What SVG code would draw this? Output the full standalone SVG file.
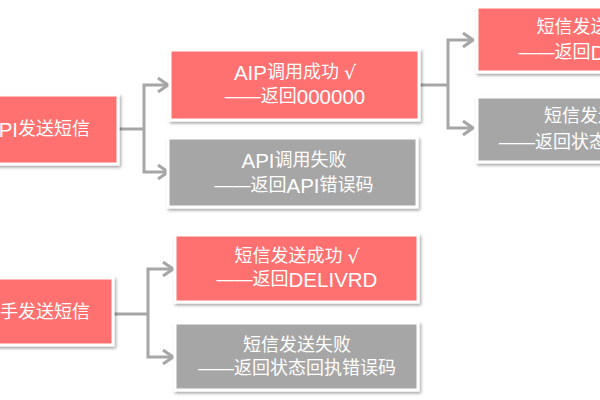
<svg xmlns="http://www.w3.org/2000/svg" width="600" height="400" viewBox="0 0 600 400">
<defs>
<filter id="sh" x="-10%" y="-20%" width="130%" height="150%">
<feDropShadow dx="1.5" dy="2" stdDeviation="1.5" flood-color="#000" flood-opacity="0.35"/>
</filter>
<marker id="arr" viewBox="0 0 12 16" refX="11" refY="8" markerWidth="12" markerHeight="16" markerUnits="userSpaceOnUse" orient="auto">
<path d="M1,1 L11,8 L1,15" fill="none" stroke="#a6a6a6" stroke-width="3" stroke-linejoin="miter"/>
</marker>
</defs>
<style>
.box{stroke:#fff;stroke-width:3;filter:url(#sh)}
.pink{fill:#ff7070}
.gray{fill:#a6a6a6}
text{font-family:"Liberation Sans","Noto Sans CJK SC",sans-serif;font-size:18px;fill:#fff;dominant-baseline:central}
.l{font-size:20.5px}
.v{font-family:"DejaVu Sans",sans-serif;font-size:19px}
.c{text-anchor:middle}
.e{text-anchor:end}
.conn path{fill:none;stroke:#a6a6a6;stroke-width:3}
</style>
<rect width="600" height="400" fill="#fff"/>
<g class="conn" id="connectors">
<path d="M118,129 H144"/>
<path d="M144,129 V85 H168" marker-end="url(#arr)"/>
<path d="M144,129 V172 H168" marker-end="url(#arr)"/>
<path d="M419,85 H448"/>
<path d="M448,85 V40 H473" marker-end="url(#arr)"/>
<path d="M448,85 V128 H473" marker-end="url(#arr)"/>
<path d="M113,314 H148"/>
<path d="M148,314 V269 H173" marker-end="url(#arr)"/>
<path d="M148,314 V357 H173" marker-end="url(#arr)"/>
</g>
<g id="n-api-send">
<rect class="box pink" x="-40" y="95" width="158" height="69"/>
<text class="e" x="90" y="129"><tspan class="l">API</tspan>发送短信</text>
</g>
<g id="n-api-ok">
<rect class="box pink" x="170" y="50" width="249" height="70"/>
<text class="c" x="295" y="72"><tspan class="l">AIP</tspan>调用成功 <tspan class="v">√</tspan></text>
<text class="c" x="295" y="96">——返回<tspan class="l">000000</tspan></text>
</g>
<g id="n-api-fail">
<rect class="box gray" x="168" y="138" width="249" height="69"/>
<text class="c" x="294" y="160"><tspan class="l">API</tspan>调用失败</text>
<text class="c" x="294" y="185">——返回<tspan class="l">API</tspan>错误码</text>
</g>
<g id="n-sms-ok-top">
<rect class="box pink" x="477" y="7" width="244" height="65"/>
<text class="c" x="599" y="27">短信发送成功 <tspan class="v">√</tspan></text>
<text class="c" x="599" y="52">——返回<tspan class="l">DELIVRD</tspan></text>
</g>
<g id="n-sms-fail-top">
<rect class="box gray" x="477" y="97" width="244" height="65"/>
<text class="c" x="598" y="116">短信发送失败</text>
<text class="c" x="598" y="142">——返回状态回执错误码</text>
</g>
<g id="n-hand-send">
<rect class="box pink" x="-40" y="278" width="153" height="67"/>
<text class="e" x="90" y="312">手发送短信</text>
</g>
<g id="n-sms-ok">
<rect class="box pink" x="175" y="235" width="243" height="67"/>
<text class="c" x="297" y="256">短信发送成功 <tspan class="v">√</tspan></text>
<text class="c" x="297" y="279">——返回<tspan class="l">DELIVRD</tspan></text>
</g>
<g id="n-sms-fail">
<rect class="box gray" x="175" y="323" width="243" height="67"/>
<text class="c" x="297" y="345">短信发送失败</text>
<text class="c" x="297" y="368">——返回状态回执错误码</text>
</g>
</svg>
